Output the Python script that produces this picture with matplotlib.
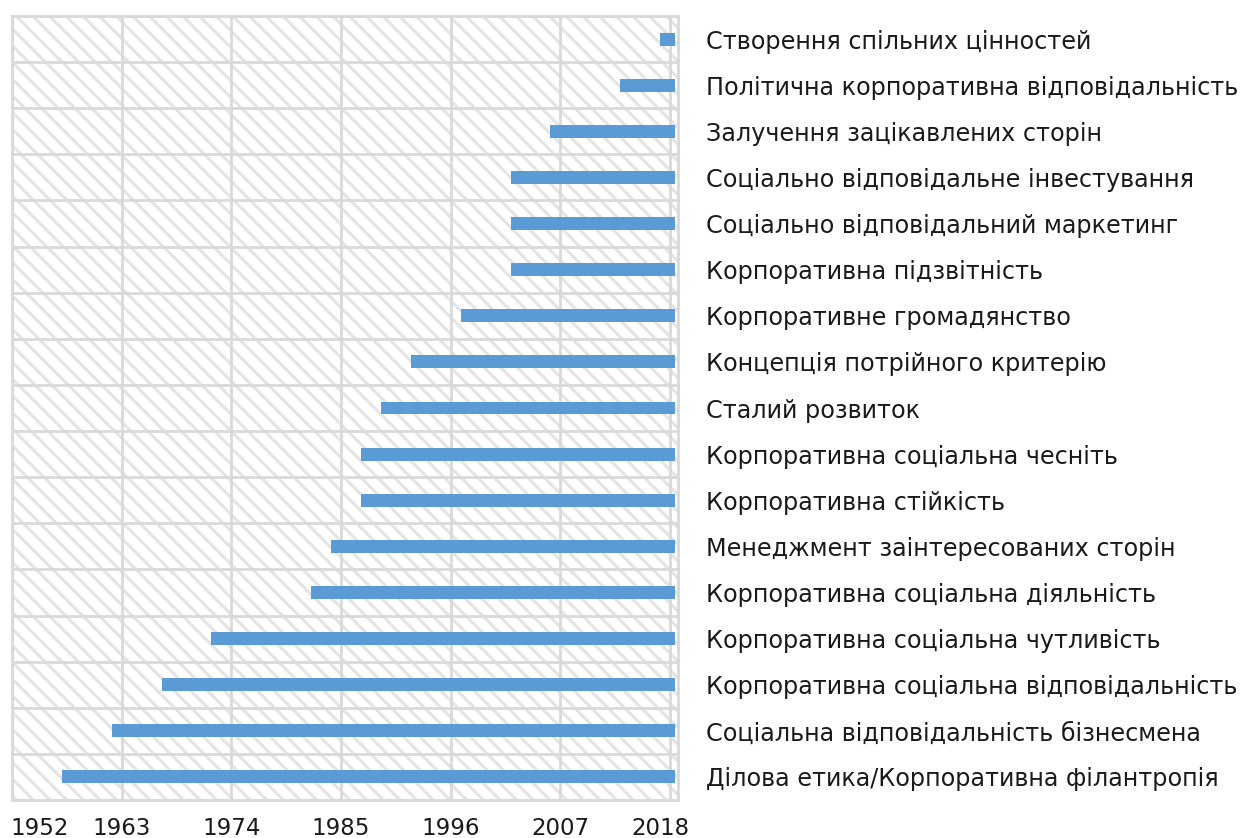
import matplotlib
matplotlib.use("Agg")
import matplotlib.pyplot as plt
from matplotlib.patches import Rectangle
from matplotlib.transforms import ScaledTranslation

categories = [
    "Створення спільних цінностей",
    "Політична корпоративна відповідальність",
    "Залучення зацікавлених сторін",
    "Соціально відповідальне інвестування",
    "Соціально відповідальний маркетинг",
    "Корпоративна підзвітність",
    "Корпоративне громадянство",
    "Концепція потрійного критерію",
    "Сталий розвиток",
    "Корпоративна соціальна чесніть",
    "Корпоративна стійкість",
    "Менеджмент заінтересованих сторін",
    "Корпоративна соціальна діяльність",
    "Корпоративна соціальна чутливість",
    "Корпоративна соціальна відповідальність",
    "Соціальна відповідальність бізнесмена",
    "Ділова етика/Корпоративна філантропія",
]
start_years = [2017, 2013, 2006, 2002, 2002, 2002, 1997, 1992, 1989, 1987, 1987,
               1984, 1982, 1972, 1967, 1962, 1957]
end_year = 2018.5
x_ticks = [1952, 1963, 1974, 1985, 1996, 2007, 2018]

plt.rcParams['font.family'] = ['DejaVu Sans']
plt.rcParams['hatch.linewidth'] = 2.2
plt.rcParams['hatch.color'] = '#e4e4e4'

fig = plt.figure(figsize=(12.5, 8.38), dpi=100)
ax = fig.add_axes([12/1250, 1-800/838, (678-12)/1250, (800-16)/838])

n = len(categories)
ys = list(range(n))
widths = [end_year - s for s in start_years]
ax.barh(ys, widths, left=start_years, height=0.28, color='#5b9bd5', zorder=3)

ax.set_xlim(1952, 2018.8)
ax.set_ylim(n - 0.5, -0.5)

bg = Rectangle((0, 0), 1, 1, transform=ax.transAxes, facecolor='white',
               edgecolor='#e4e4e4', hatch='\\\\', linewidth=0, zorder=0.2)
ax.add_patch(bg)

ax.set_xticks(x_ticks)
ax.set_xticklabels([str(t) for t in x_ticks])
ax.set_yticks(ys)
ax.set_yticklabels(categories)
ax.set_yticks([i + 0.5 for i in range(-1, n)], minor=True)
ax.yaxis.tick_right()
ax.tick_params(axis='y', which='both', length=0, pad=20, labelsize=17.2, labelcolor='#1a1a1a')
ax.tick_params(axis='x', length=0, pad=12, labelsize=16.5, labelcolor='#1a1a1a')

ax.grid(axis='x', which='major', color='#d9d9d9', linewidth=2, zorder=1)
ax.grid(axis='y', which='minor', color='#d9d9d9', linewidth=2, zorder=1)
ax.set_axisbelow(True)
for sp in ax.spines.values():
    sp.set_color('#d9d9d9')
    sp.set_linewidth(2)

labels = ax.get_xticklabels()
labels[0].set_transform(labels[0].get_transform() + ScaledTranslation(28/100, 0, fig.dpi_scale_trans))
labels[-1].set_transform(labels[-1].get_transform() + ScaledTranslation(-10/100, 0, fig.dpi_scale_trans))

fig.savefig("out.png", dpi=100, facecolor='white')
